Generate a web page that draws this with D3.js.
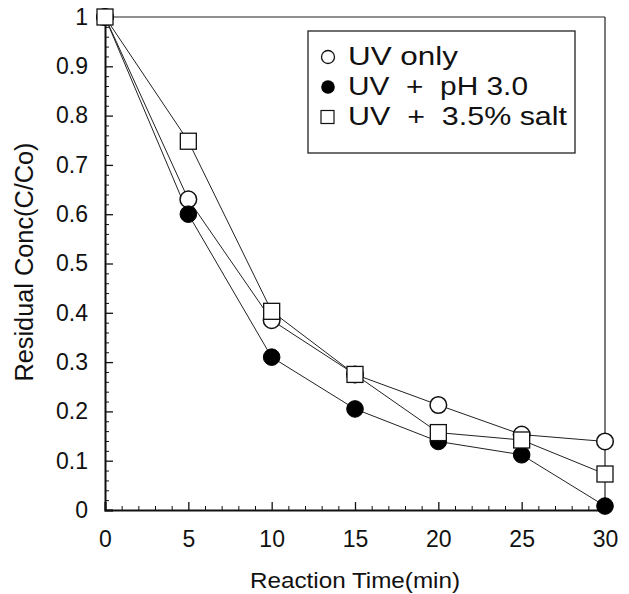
<!DOCTYPE html>
<html>
<head>
<meta charset="utf-8">
<script src="https://cdn.jsdelivr.net/npm/d3@7"></script>
<style>
  html, body { margin: 0; padding: 0; background: #fff; }
  svg { display: block; }
  text { font-family: "Liberation Sans", Arial, Helvetica, sans-serif; fill: #111; }
</style>
</head>
<body>
<svg id="chart" width="629" height="594"></svg>
<script>
// ---- Data ----
const times = [0, 5, 10, 15, 20, 25, 30];
const uvOnly = [1.0, 0.63, 0.385, 0.275, 0.213, 0.153, 0.139];
const uvPH3 = [1.0, 0.600, 0.310, 0.205, 0.139, 0.112, 0.008];
const uvSalt = [1.0, 0.748, 0.403, 0.275, 0.157, 0.142, 0.073];
const seriesNames = ["UV only", "UV  +  pH 3.0", "UV  +  3.5% salt"];
const xTicks = [0, 5, 10, 15, 20, 25, 30];
const yTicks = [0, 0.1, 0.2, 0.3, 0.4, 0.5, 0.6, 0.7, 0.8, 0.9, 1];
const xTitle = "Reaction Time(min)";
const yTitle = "Residual Conc(C/Co)";

const svg = d3.select("#chart");
const x = d3.scaleLinear().domain([0, 30]).range([105, 605]);
const y = d3.scaleLinear().domain([0, 1]).range([510, 17]);

// frame (top and right thin)
svg.append("line").attr("x1", x(0)).attr("x2", x(30)).attr("y1", y(1)).attr("y2", y(1))
  .attr("stroke", "#222").attr("stroke-width", 1.2);
svg.append("line").attr("x1", x(30)).attr("x2", x(30)).attr("y1", y(1)).attr("y2", y(0))
  .attr("stroke", "#222").attr("stroke-width", 1.2);

// minor ticks
const xMinor = d3.range(0, 31, 1).filter(v => v % 5 !== 0);
const yMinor = d3.range(0, 51, 1).map(v => v / 50).filter((v, i) => i % 5 !== 0);

const xAxis = d3.axisBottom(x).tickValues(xTicks).tickSize(-8).tickPadding(21).tickFormat(d3.format("d"));
const gx = svg.append("g").attr("transform", `translate(0,${y(0)})`).call(xAxis);
gx.select(".domain").attr("stroke", "#111").attr("stroke-width", 2);
gx.selectAll(".tick line").attr("stroke", "#111").attr("stroke-width", 1.3);
gx.selectAll(".tick text").attr("font-size", 23).attr("fill", "#111")
  .attr("font-family", "'Liberation Sans', Arial, sans-serif");
svg.append("g").attr("transform", `translate(0,${y(0)})`)
  .call(d3.axisBottom(x).tickValues(xMinor).tickSize(-4).tickFormat(""))
  .call(g => g.select(".domain").remove())
  .selectAll(".tick line").attr("stroke", "#111").attr("stroke-width", 1);

const yFmt = d => d === 0 ? "0" : d === 1 ? "1" : d3.format(".1f")(d);
const yAxis = d3.axisLeft(y).tickValues(yTicks).tickSize(-8).tickPadding(17).tickFormat(yFmt);
const gy = svg.append("g").attr("transform", `translate(${x(0)},0)`).call(yAxis);
gy.select(".domain").attr("stroke", "#111").attr("stroke-width", 2);
gy.selectAll(".tick line").attr("stroke", "#111").attr("stroke-width", 1.3);
gy.selectAll(".tick text").attr("font-size", 23).attr("fill", "#111")
  .attr("font-family", "'Liberation Sans', Arial, sans-serif");
svg.append("g").attr("transform", `translate(${x(0)},0)`)
  .call(d3.axisLeft(y).tickValues(yMinor).tickSize(-4).tickFormat(""))
  .call(g => g.select(".domain").remove())
  .selectAll(".tick line").attr("stroke", "#111").attr("stroke-width", 1);

// axis titles
svg.append("text").attr("x", 355).attr("y", 588).attr("text-anchor", "middle")
  .attr("font-size", 22).attr("textLength", 210).attr("lengthAdjust", "spacingAndGlyphs").text(xTitle);
svg.append("text").attr("transform", "translate(33,262) rotate(-90)").attr("text-anchor", "middle")
  .attr("font-size", 25).attr("textLength", 239).attr("lengthAdjust", "spacingAndGlyphs").text(yTitle);

// lines
const line = d3.line().x((d, i) => x(times[i])).y(d => y(d));
[uvOnly, uvPH3, uvSalt].forEach(s => {
  svg.append("path").datum(s).attr("d", line).attr("fill", "none")
    .attr("stroke", "#222").attr("stroke-width", 1);
});

// markers
const r = 8.3, sq = 16;
svg.append("g").selectAll("circle").data(uvOnly).join("circle")
  .attr("cx", (d, i) => x(times[i])).attr("cy", d => y(d)).attr("r", r)
  .attr("fill", "#fff").attr("stroke", "#111").attr("stroke-width", 1.5);
svg.append("g").selectAll("circle").data(uvPH3).join("circle")
  .attr("cx", (d, i) => x(times[i])).attr("cy", d => y(d)).attr("r", r)
  .attr("fill", "#000").attr("stroke", "#000").attr("stroke-width", 1);
svg.append("g").selectAll("rect").data(uvSalt).join("rect")
  .attr("x", (d, i) => x(times[i]) - sq / 2).attr("y", d => y(d) - sq / 2)
  .attr("width", sq).attr("height", sq)
  .attr("fill", "#fff").attr("stroke", "#111").attr("stroke-width", 1.3);

// legend
const lg = svg.append("g");
lg.append("rect").attr("x", 308).attr("y", 31).attr("width", 267).attr("height", 122)
  .attr("fill", "#fff").attr("stroke", "#222").attr("stroke-width", 1.3);
const rows = [65, 95, 125];
const lens = [110, 180, 219];
seriesNames.forEach((name, i) => {
  const cy = rows[i] - 8;
  if (i === 0) lg.append("circle").attr("cx", 328).attr("cy", cy).attr("r", 6.5)
    .attr("fill", "#fff").attr("stroke", "#111").attr("stroke-width", 1.3);
  if (i === 1) lg.append("circle").attr("cx", 328).attr("cy", cy).attr("r", 6.8)
    .attr("fill", "#000");
  if (i === 2) lg.append("rect").attr("x", 321).attr("y", cy - 6.5).attr("width", 13).attr("height", 13)
    .attr("fill", "#fff").attr("stroke", "#111").attr("stroke-width", 1.2);
  lg.append("text").attr("x", 348).attr("y", rows[i]).attr("font-size", 25)
    .attr("textLength", lens[i]).attr("lengthAdjust", "spacingAndGlyphs")
    .style("white-space", "pre").attr("xml:space", "preserve").text(name);
});
</script>
</body>
</html>
